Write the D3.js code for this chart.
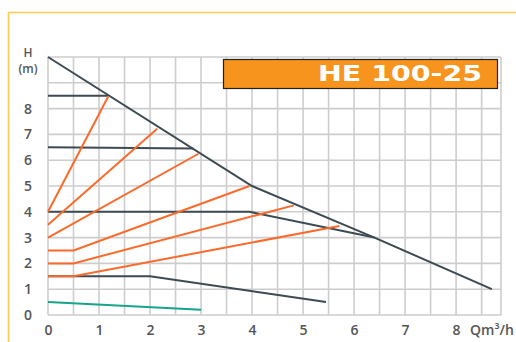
<!DOCTYPE html>
<html>
<head>
<meta charset="utf-8">
<script src="https://cdn.jsdelivr.net/npm/d3@7"></script>
<style>
  body { margin: 0; background: #fff; }
  .axis text { font-family: "Open Sans", sans-serif; font-weight: 600; font-size: 14px; fill: #555; }
  .axis path, .axis line { display: none; }
</style>
</head>
<body>
<div id="chart"></div>
<script>
// tick labels
var flowTicks = [0, 1, 2, 3, 4, 5, 6, 7, 8];
var headTicks = [0, 1, 2, 3, 4, 5, 6, 7, 8];

// pump curves (Q m3/h, H m)
var curveMax = [[0, 10], [4, 5], [6.4, 3], [8.7, 1]];
var curveH85 = [[0, 8.5], [1.18, 8.5]];
var curveH65 = [[0, 6.5], [2.85, 6.45]];
var curveH4 = [[0, 4], [3.95, 4], [6.4, 3]];
var curveH15 = [[0, 1.5], [2, 1.5], [5.45, 0.5]];
var curveMin = [[0, 0.5], [3, 0.2]];

// proportional / constant pressure lines (orange)
var prop1 = [[0, 4], [1.18, 8.47]];
var prop2 = [[0, 3.5], [2.14, 7.22]];
var prop3 = [[0, 3], [2.95, 6.25]];
var prop4 = [[0, 2.5], [0.5, 2.5], [3.95, 5]];
var prop5 = [[0, 2], [0.5, 2], [4.82, 4.25]];
var prop6 = [[0, 1.5], [0.5, 1.5], [5.71, 3.45]];

var title = "HE 100-25";

var margin = {top: 57, left: 48},
    width = 453,
    height = 258;

var svg = d3.select("#chart").append("svg")
  .attr("width", 516)
  .attr("height", 342);

// yellow frame
svg.append("path")
  .attr("d", "M8.5,342V12.5H516")
  .attr("fill", "none")
  .attr("stroke", "#fdca55")
  .attr("stroke-width", 1.6);

var g = svg.append("g")
  .attr("transform", "translate(" + margin.left + "," + margin.top + ")");

var x = d3.scaleLinear()
  .domain([0, 8.88])
  .range([0, width]);

var y = d3.scaleLinear()
  .domain([0, 10])
  .range([height, 0]);

// grid
var vLines = d3.range(0, 8.51, 0.5).concat([x.domain()[1]]);
var hLines = d3.range(0, 10.01, 1);

g.selectAll(".vgrid")
  .data(vLines)
  .enter().append("line")
  .attr("class", "vgrid")
  .attr("x1", function(d) { return x(d); })
  .attr("x2", function(d) { return x(d); })
  .attr("y1", 0)
  .attr("y2", height)
  .attr("stroke", "#cdcdcd")
  .attr("stroke-width", 1.6);

g.selectAll(".hgrid")
  .data(hLines)
  .enter().append("line")
  .attr("class", "hgrid")
  .attr("x1", 0)
  .attr("x2", width)
  .attr("y1", function(d) { return y(d); })
  .attr("y2", function(d) { return y(d); })
  .attr("stroke", "#cdcdcd")
  .attr("stroke-width", 1.6);

// axes
g.append("g")
  .attr("class", "x axis")
  .attr("transform", "translate(0," + height + ")")
  .call(d3.axisBottom(x).tickValues(flowTicks).tickSize(0).tickPadding(10).tickFormat(d3.format("d")));

g.append("g")
  .attr("class", "y axis")
  .call(d3.axisLeft(y).tickValues(headTicks).tickSize(0).tickPadding(16).tickFormat(d3.format("d")));

var labelStyle = function(sel) {
  sel.attr("font-family", "Open Sans, sans-serif")
    .attr("font-weight", 600)
    .attr("fill", "#555");
};

svg.append("text").call(labelStyle)
  .attr("x", 28).attr("y", 57)
  .attr("text-anchor", "middle")
  .attr("font-size", 12)
  .text("H");
svg.append("text").call(labelStyle)
  .attr("x", 28).attr("y", 72.5)
  .attr("text-anchor", "middle")
  .attr("font-size", 12)
  .text("(m)");
svg.append("text").call(labelStyle)
  .attr("x", 470).attr("y", 335)
  .attr("font-size", 14)
  .text("Qm³/h");

// curves
var line = d3.line()
  .x(function(d) { return x(d[0]); })
  .y(function(d) { return y(d[1]); });

var dark = [curveMax, curveH85, curveH65, curveH4, curveH15];
var orange = [prop1, prop2, prop3, prop4, prop5, prop6];

g.selectAll(".dark")
  .data(dark)
  .enter().append("path")
  .attr("class", "dark")
  .attr("fill", "none")
  .attr("stroke", "#3d4a52")
  .attr("stroke-width", 2)
  .attr("d", line);

g.selectAll(".orange")
  .data(orange)
  .enter().append("path")
  .attr("class", "orange")
  .attr("fill", "none")
  .attr("stroke", "#fb6a2a")
  .attr("stroke-width", 2)
  .attr("d", line);

g.append("path")
  .datum(curveMin)
  .attr("fill", "none")
  .attr("stroke", "#17a589")
  .attr("stroke-width", 2)
  .attr("d", line);

// title box
svg.append("rect")
  .attr("x", 223.5)
  .attr("y", 59.5)
  .attr("width", 274)
  .attr("height", 29)
  .attr("fill", "#f7941d")
  .attr("stroke", "#222")
  .attr("stroke-width", 1.2);

svg.append("text")
  .attr("x", 318)
  .attr("y", 80.5)
  .attr("font-family", "DejaVu Sans, sans-serif")
  .attr("font-weight", "bold")
  .attr("font-size", 21)
  .attr("fill", "#fff")
  .attr("textLength", 164)
  .attr("lengthAdjust", "spacingAndGlyphs")
  .text(title);
</script>
</body>
</html>
